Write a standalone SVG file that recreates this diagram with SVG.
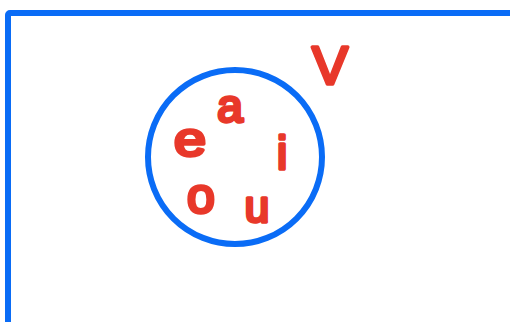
<svg xmlns="http://www.w3.org/2000/svg" width="510" height="322" viewBox="0 0 510 322">
<style>
.blue{fill:none;stroke:#0a6cf6;stroke-width:6;stroke-linejoin:round}
.lt{font-family:"Liberation Sans",Arial,sans-serif;fill:#e8382a;stroke:#e8382a;stroke-width:3.5;stroke-linejoin:round;stroke-linecap:round;text-anchor:middle}
</style>
<rect width="510" height="322" fill="#ffffff"/>
<g id="universe">
<rect class="blue" x="8" y="13" width="600" height="400" rx="2"/>
<text class="lt" x="330" y="84" font-size="54">V</text>
</g>
<g id="set">
<circle class="blue" cx="235" cy="157" r="87" stroke-width="5"/>
<text class="lt" x="230" y="122" font-size="46">a</text>
<text class="lt" x="190" y="156" font-size="48" transform="translate(190 0) scale(1.2 1) translate(-190 0)">e</text>
<text class="lt" x="282" y="169" font-size="46">i</text>
<text class="lt" x="201" y="213" font-size="50">o</text>
<text class="lt" x="257" y="222" font-size="44">u</text>
</g>
</svg>
